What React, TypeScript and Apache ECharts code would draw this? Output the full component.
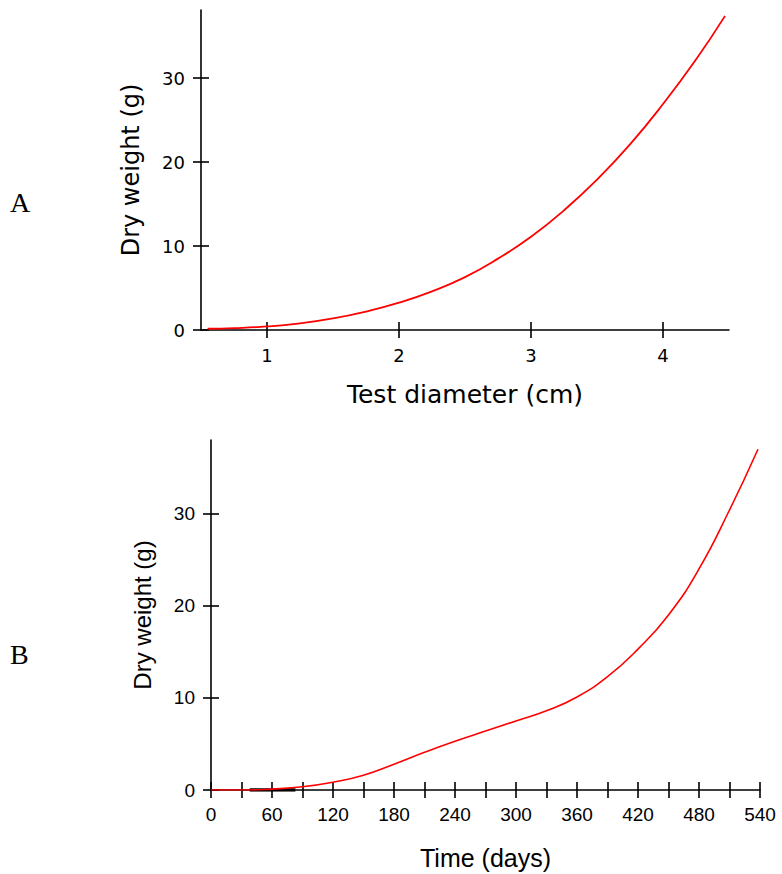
import React, { useEffect, useRef } from "react";
import * as echarts from "echarts";

// Chart A: dry weight vs test diameter
const diameters = [0.55, 0.75, 1.0, 1.25, 1.5, 1.75, 2.0, 2.25, 2.5, 2.75, 3.0, 3.25, 3.5, 3.75, 4.0, 4.25, 4.47];
const weightsA = [0.15, 0.22, 0.42, 0.8, 1.38, 2.2, 3.25, 4.6, 6.3, 8.5, 11.1, 14.25, 17.9, 22.1, 26.9, 32.2, 37.4];
const ticksA_x = [1, 2, 3, 4];
const ticksY = [0, 10, 20, 30];

// Chart B: dry weight vs time
const days = [0, 35, 60, 90, 120, 150, 180, 210, 240, 270, 300, 330, 360, 390, 420, 450, 480, 510, 538];
const weightsB = [0, 0, 0.1, 0.35, 0.85, 1.6, 2.8, 4.1, 5.3, 6.4, 7.5, 8.6, 10.1, 12.3, 15.3, 19.0, 24.0, 30.4, 37.0];
const ticksB_x = [0, 30, 60, 90, 120, 150, 180, 210, 240, 270, 300, 330, 360, 390, 420, 450, 480, 510, 540];
const labelsB_x = [0, 60, 120, 180, 240, 300, 360, 420, 480, 540];
const darkSegmentDays = [38, 83];

export default function App() {
  const ref = useRef<HTMLDivElement>(null);
  useEffect(() => {
    document.body.style.margin = "0";
    const chart = echarts.init(ref.current!, undefined, { renderer: "svg" });
    const lineStyle = { color: "#000", width: 1.6 };
    const fontA = "DejaVu Sans";
    const fontB = "Liberation Sans";
    const axis = (grid: number, position: string, min: number, max: number, extra: any) => ({
      type: "value",
      gridIndex: grid,
      position,
      offset: 0,
      min,
      max,
      splitLine: { show: false },
      axisLine: { show: true, onZero: false, lineStyle },
      ...extra,
    });
    const insideTicks = (grid: number, position: string, min: number, max: number, ticks: number[]) =>
      axis(grid, position, min, max, {
        axisLine: { show: false, onZero: false },
        axisTick: { show: true, inside: true, length: 8, lineStyle, customValues: ticks },
        axisLabel: { show: false },
      });
    const option: any = {
      animation: false,
      backgroundColor: "#fff",
      graphic: [
        { type: "text", left: 10, top: 188, style: { text: "A", font: "28px 'Liberation Serif'", fill: "#000" } },
        { type: "text", left: 10, top: 640, style: { text: "B", font: "28px 'Liberation Serif'", fill: "#000" } },
      ],
      grid: [
        { left: 201, top: 10, width: 528, height: 320 },
        { left: 211, top: 440, width: 549, height: 350 },
      ],
      xAxis: [
        axis(0, "bottom", 0.5, 4.5, {
          axisTick: { show: true, length: 8, lineStyle, customValues: ticksA_x },
          axisLabel: { customValues: ticksA_x, color: "#000", fontFamily: fontA, fontSize: 18, margin: 16 },
          name: "Test diameter (cm)",
          nameLocation: "middle",
          nameGap: 52,
          nameTextStyle: { color: "#000", fontFamily: fontA, fontSize: 25 },
        }),
        insideTicks(0, "bottom", 0.5, 4.5, ticksA_x),
        axis(1, "bottom", 0, 540, {
          axisTick: { show: true, length: 8, lineStyle, customValues: ticksB_x },
          axisLabel: { customValues: labelsB_x, color: "#000", fontFamily: fontB, fontSize: 19, margin: 15 },
          name: "Time (days)",
          nameLocation: "middle",
          nameGap: 55,
          nameTextStyle: { color: "#000", fontFamily: fontB, fontSize: 25 },
        }),
        insideTicks(1, "bottom", 0, 540, ticksB_x),
      ],
      yAxis: [
        axis(0, "left", 0, 38.1, {
          axisTick: { show: true, length: 8, lineStyle, customValues: ticksY },
          axisLabel: { customValues: ticksY, color: "#000", fontFamily: fontA, fontSize: 18, margin: 16 },
          name: "Dry weight (g)",
          nameLocation: "middle",
          nameGap: 58,
          nameTextStyle: { color: "#000", fontFamily: fontA, fontSize: 24 },
        }),
        insideTicks(0, "left", 0, 38.1, ticksY),
        axis(1, "left", 0, 38, {
          axisTick: { show: true, length: 8, lineStyle, customValues: ticksY },
          axisLabel: { customValues: ticksY, color: "#000", fontFamily: fontB, fontSize: 19, margin: 16 },
          name: "Dry weight (g)",
          nameLocation: "middle",
          nameGap: 57,
          nameTextStyle: { color: "#000", fontFamily: fontB, fontSize: 24 },
        }),
        insideTicks(1, "left", 0, 38, ticksY),
      ],
      series: [
        {
          type: "line",
          xAxisIndex: 0,
          yAxisIndex: 0,
          data: diameters.map((d, i) => [d, weightsA[i]]),
          smooth: 0.5,
          showSymbol: false,
          lineStyle: { color: "#ff0000", width: 1.8 },
        },
        {
          type: "line",
          xAxisIndex: 2,
          yAxisIndex: 2,
          data: darkSegmentDays.map((d) => [d, 0]),
          showSymbol: false,
          lineStyle: { color: "#000", width: 3.5 },
        },
        {
          type: "line",
          xAxisIndex: 2,
          yAxisIndex: 2,
          data: days.map((d, i) => [d, weightsB[i]]),
          smooth: 0.5,
          showSymbol: false,
          lineStyle: { color: "#ff0000", width: 1.6 },
        },
      ],
    };
    chart.setOption(option);
    return () => chart.dispose();
  }, []);
  return <div ref={ref} style={{ width: 782, height: 874 }} />;
}
